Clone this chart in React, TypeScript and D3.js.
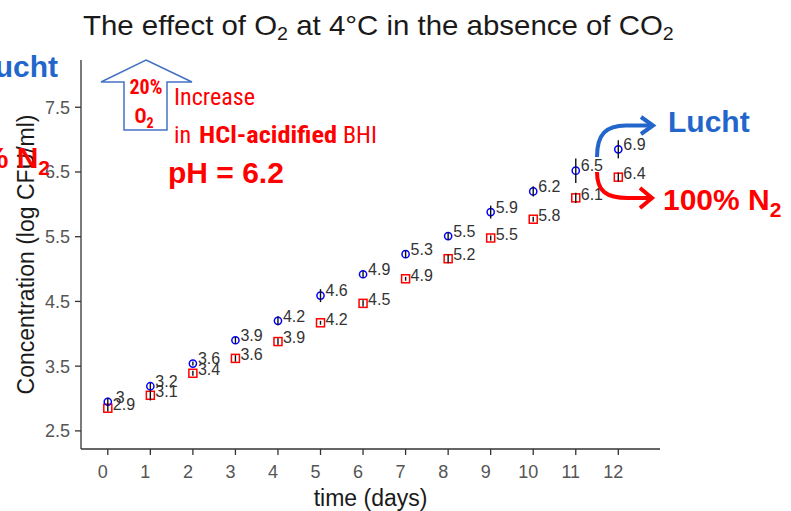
import React from "react";
import * as d3 from "d3";

const days = [0, 1, 2, 3, 4, 5, 6, 7, 8, 9, 10, 11, 12];
const luchtMean = [2.95, 3.19, 3.54, 3.9, 4.2, 4.59, 4.92, 5.23, 5.51, 5.88, 6.2, 6.52, 6.85];
const luchtErr = [0.06, 0.05, 0.03, 0.05, 0.07, 0.1, 0.05, 0.06, 0.06, 0.1, 0.08, 0.19, 0.14];
const luchtLabels = ["3", "3.2", "3.6", "3.9", "4.2", "4.6", "4.9", "5.3", "5.5", "5.9", "6.2", "6.5", "6.9"];
const n2Mean = [2.85, 3.05, 3.39, 3.62, 3.88, 4.17, 4.47, 4.85, 5.16, 5.48, 5.77, 6.1, 6.42];
const n2Err = [0.05, 0.08, 0.04, 0.05, 0.05, 0.03, 0.05, 0.03, 0.07, 0.04, 0.04, 0.08, 0.07];
const n2Labels = ["2.9", "3.1", "3.4", "3.6", "3.9", "4.2", "4.5", "4.9", "5.2", "5.5", "5.8", "6.1", "6.4"];
const yTicks = [2.5, 3.5, 4.5, 5.5, 6.5, 7.5];
const xTicks = days;

const SANS = "'Liberation Sans', Arial, sans-serif";
const NARROW = "'Liberation Sans Narrow', 'Roboto Condensed', 'Liberation Sans', sans-serif";

export default function App() {
  const x = d3.scaleLinear().domain([-0.63, 12.98]).range([81, 660]);
  const y = d3.scaleLinear().domain([2.22, 8.23]).range([449, 60]);
  const [x0, x1] = x.range();
  const [yb, yt] = y.range();
  const blueArrow = d3.path();
  blueArrow.moveTo(597, 157);
  blueArrow.bezierCurveTo(597, 134, 606, 125.5, 626, 125.5);
  blueArrow.lineTo(650, 125.5);
  const redArrow = d3.path();
  redArrow.moveTo(597, 172);
  redArrow.bezierCurveTo(597, 191, 606, 198, 628, 198);
  redArrow.lineTo(650, 198);

  return (
    <div style={{ position: "absolute", left: 0, top: 0 }}>
      <svg width={791} height={511} style={{ display: "block", background: "#fff" }}>
        {/* title */}
        <text transform="translate(83,35) scale(1.09,1)" fontFamily={SANS} fontSize={27} fill="#1a1a1a">
          The effect of O<tspan fontSize={18} dy={5}>2</tspan>
          <tspan dy={-5}> at 4°C in the absence of CO</tspan>
          <tspan fontSize={18} dy={5}>2</tspan>
        </text>

        {/* axes */}
        <line x1={x0} x2={x0} y1={yt} y2={yb} stroke="#333" strokeWidth={1.3} />
        <line x1={x0} x2={x1} y1={yb} y2={yb} stroke="#333" strokeWidth={1.3} />
        {yTicks.map((t) => (
          <g key={"y" + t}>
            <line x1={x0 - 6} x2={x0} y1={y(t)} y2={y(t)} stroke="#333" strokeWidth={1.3} />
            <text x={x0 - 11} y={y(t)} dy="0.36em" textAnchor="end" fontFamily={SANS} fontSize={18} fill="#555">
              {t.toFixed(1)}
            </text>
          </g>
        ))}
        {xTicks.map((t) => (
          <g key={"x" + t}>
            <line x1={x(t)} x2={x(t)} y1={yb} y2={yb + 6} stroke="#333" strokeWidth={1.3} />
            <text x={x(t) - 5} y={478} textAnchor="middle" fontFamily={SANS} fontSize={18} fill="#555">
              {t}
            </text>
          </g>
        ))}
        <text x={(x0 + x1) / 2} y={506} textAnchor="middle" fontFamily={SANS} fontSize={23} fill="#1a1a1a">
          time (days)
        </text>
        <text
          transform={`translate(34,${(yt + yb) / 2}) rotate(-90)`}
          textAnchor="middle"
          fontFamily={SANS}
          fontSize={23}
          fill="#1a1a1a"
        >
          Concentration (log CFU/ml)
        </text>

        {/* data: N2 squares */}
        {days.map((d, i) => (
          <rect key={"s" + i} x={x(d) - 4} y={y(n2Mean[i]) - 4} width={8} height={8} fill="none" stroke="#ff0000" strokeWidth={1.5} />
        ))}
        {/* data: air circles */}
        {days.map((d, i) => (
          <circle key={"c" + i} cx={x(d)} cy={y(luchtMean[i])} r={3.6} fill="none" stroke="#0000ff" strokeWidth={1.5} />
        ))}
        {/* error bars */}
        {days.map((d, i) => (
          <g key={"e" + i}>
            <line x1={x(d)} x2={x(d)} y1={y(n2Mean[i] - n2Err[i])} y2={y(n2Mean[i] + n2Err[i])} stroke="#111" strokeWidth={1.4} />
            <line x1={x(d)} x2={x(d)} y1={y(luchtMean[i] - luchtErr[i])} y2={y(luchtMean[i] + luchtErr[i])} stroke="#111" strokeWidth={1.4} />
          </g>
        ))}
        {/* labels */}
        {days.map((d, i) => (
          <g key={"l" + i} fontFamily={SANS} fontSize={16} fill="#333">
            <text x={x(d) + 5} y={y(n2Mean[i]) - 4} dy="0.36em">{n2Labels[i]}</text>
            <text x={x(d) + 5 + (i === 0 ? 3 : 0)} y={y(luchtMean[i]) - 5} dy="0.36em">{luchtLabels[i]}</text>
          </g>
        ))}

        {/* annotations: block arrow */}
        <path d="M146,60 L192,82 L167,82 L167,130 L124,130 L124,82 L101,82 Z" fill="none" stroke="#4472c4" strokeWidth={1.5} />
        <text x={146} y={94} textAnchor="middle" fontFamily={NARROW} fontWeight="bold" fontSize={20} fill="#ff0000">20%</text>
        <text x={144} y={123} textAnchor="middle" fontFamily={NARROW} fontWeight="bold" fontSize={20} fill="#ff0000">
          O<tspan fontSize={14} dy={5}>2</tspan>
        </text>
        <text x={174} y={105} fontFamily={NARROW} fontSize={24} fill="#ff0000" textLength={81} lengthAdjust="spacingAndGlyphs">Increase</text>
        <text x={174} y={143} fontFamily={NARROW} fontSize={24} fill="#ff0000">in</text>
        <text x={199} y={143} fontFamily={NARROW} fontWeight="bold" fontSize={24} fill="#ff0000" textLength={138} lengthAdjust="spacingAndGlyphs">HCl-acidified</text>
        <text x={343} y={143} fontFamily={NARROW} fontSize={24} fill="#ff0000" textLength={34} lengthAdjust="spacingAndGlyphs">BHI</text>
        <text x={168} y={183} fontFamily={SANS} fontWeight="bold" fontSize={30} fill="#ff0000">pH = 6.2</text>

        {/* left cut-off labels */}
        <text x={58} y={77} textAnchor="end" fontFamily={SANS} fontWeight="bold" fontSize={30} fill="#2266cc">Lucht</text>
        <text x={50} y={168} textAnchor="end" fontFamily={SANS} fontWeight="bold" fontSize={30} fill="#ff0000">
          100% N<tspan fontSize={21} dy={7}>2</tspan>
        </text>

        {/* right arrows and labels */}
        <path d={blueArrow.toString()} fill="none" stroke="#2266cc" strokeWidth={4} />
        <path d="M641,117 L653,125.5 L641,134" fill="none" stroke="#2266cc" strokeWidth={4} strokeLinejoin="miter" />
        <path d={redArrow.toString()} fill="none" stroke="#ff0000" strokeWidth={4} />
        <path d="M640,188 L652,198 L640,208" fill="none" stroke="#ff0000" strokeWidth={4} />
        <text x={668} y={132} fontFamily={SANS} fontWeight="bold" fontSize={30} fill="#2266cc">Lucht</text>
        <text x={663} y={210} fontFamily={SANS} fontWeight="bold" fontSize={30} fill="#ff0000">
          100% N<tspan fontSize={21} dy={7}>2</tspan>
        </text>
      </svg>
    </div>
  );
}
